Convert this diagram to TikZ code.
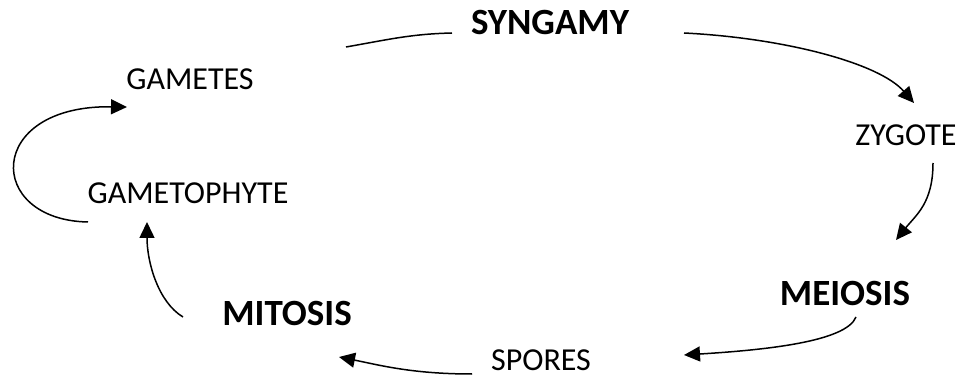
\documentclass[tikz,border=0pt]{standalone}
\usepackage{fontspec}
\setmainfont{Carlito}
\usetikzlibrary{arrows.meta}
\begin{document}
\begin{tikzpicture}[x=1pt,y=-1pt,
  lbl/.style={inner sep=0pt, font=\fontsize{32}{38}\selectfont},
  blbl/.style={inner sep=0pt, font=\fontsize{37}{44}\selectfont\bfseries},
  conn/.style={line width=1.5pt, -{Triangle[length=16pt,width=15pt]}},
  plainline/.style={line width=1.5pt}]
\useasboundingbox (0,0) rectangle (961,379);
\node[blbl] (syn) at (550,22) {SYNGAMY};
\node[lbl] (gam) at (190,79) {GAMETES};
\node[lbl] (gph) at (188,193) {GAMETOPHYTE};
\node[lbl] (zyg) at (906,135) {ZYGOTE};
\node[blbl] (mei) at (845,293) {MEIOSIS};
\node[blbl] (mit) at (287,313) {MITOSIS};
\node[lbl] (spo) at (541,360) {SPORES};
\draw[plainline] ([shift={(-98,11)}]syn.center) .. controls +(-40,1) and +(45,-8) .. ([shift={(156,-32)}]gam.center);
\draw[conn] ([shift={(134,11)}]syn.center) .. controls +(100,5) and +(-35,-40) .. ([shift={(8,-32)}]zyg.center);
\draw[conn] ([shift={(27,28)}]zyg.center) .. controls +(0,40) and +(20,-25) .. ([shift={(51,-53)}]mei.center);
\draw[conn] ([shift={(11,24)}]mei.center) .. controls +(-10,25) and +(80,-5) .. ([shift={(143,-5)}]spo.center);
\draw[conn] ([shift={(-69,14)}]spo.center) .. controls +(-60,0) and +(40,8) .. ([shift={(52,44)}]mit.center);
\draw[conn] ([shift={(-104,4)}]mit.center) .. controls +(-25,-15) and +(0,40) .. ([shift={(-41,29)}]gph.center);
\draw[conn] ([shift={(-100,29)}]gph.center) .. controls +(-103,-2) and +(-142,-2) .. ([shift={(-63,28)}]gam.center);
\end{tikzpicture}
\end{document}
